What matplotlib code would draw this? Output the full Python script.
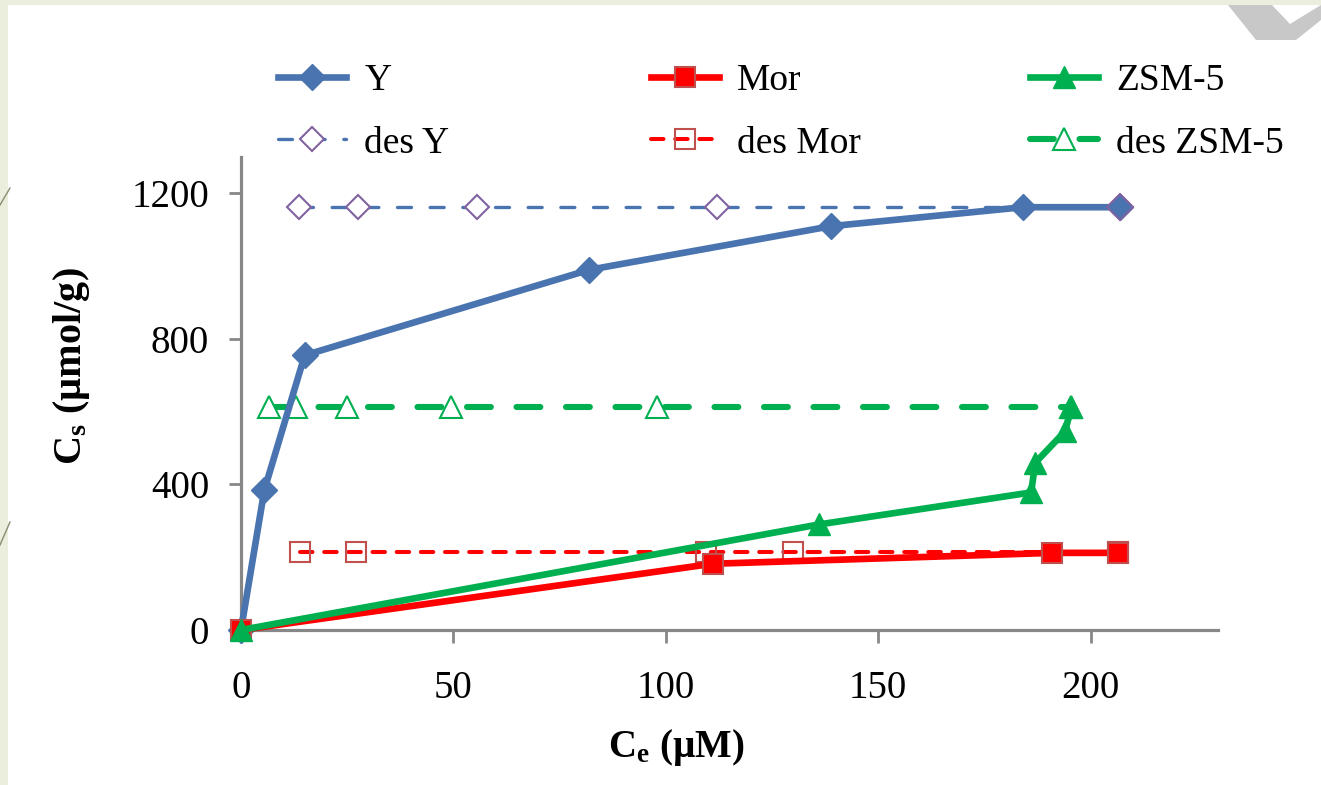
import matplotlib.pyplot as plt
from matplotlib.lines import Line2D
from matplotlib.patches import Polygon, Rectangle

plt.rcParams['font.family'] = ['Liberation Serif', 'DejaVu Serif']
plt.rcParams['mathtext.default'] = 'regular'

# Adsorption data (Ce in uM, Cs in umol/g)
y_ce = [0, 5.5, 15, 82, 139, 184, 207]
y_cs = [0, 385, 755, 990, 1110, 1162, 1162]
mor_ce = [0, 111, 191, 206.5]
mor_cs = [0, 182, 212, 212]
zsm_ce = [0, 136, 186, 187, 194, 195.5]
zsm_cs = [0, 290, 378, 460, 546, 612]

# Desorption data
desy_ce = [13.6, 27.5, 55.5, 112, 207]
desy_cs = [1162, 1162, 1162, 1162, 1162]
desmor_ce = [14, 27, 109.5, 130, 206.5]
desmor_cs = [215, 215, 215, 215, 215]
deszsm_ce = [6.6, 13, 25, 49.4, 98, 195.5]
deszsm_cs = [612, 612, 612, 612, 612, 612]

x_ticks = [0, 50, 100, 150, 200]
y_ticks = [0, 400, 800, 1200]

blue = '#4a74b0'
purple = '#7f62a0'
red = '#ff0000'
darkred = '#c0504d'
green = '#00b050'
grey = '#878787'

fig = plt.figure(figsize=(13.21, 7.85), dpi=100)
fig.patch.set_facecolor('#ebeedd')
# white slide area + decorations
fig.patches.append(Rectangle((8 / 1321, 0), 1, 1 - 5 / 785, transform=fig.transFigure,
                             facecolor='white', edgecolor='none', zorder=-10))
chev = [(1228, 5), (1272, 5), (1290, 24), (1321, 5), (1321, 20), (1296, 40), (1256, 40)]
fig.patches.append(Polygon([(x / 1321, 1 - y / 785) for x, y in chev], closed=True,
                           transform=fig.transFigure, facecolor='#c8c8c8',
                           edgecolor='none', zorder=-9))
for (x0, y0), (x1, y1) in [((0, 205), (10, 188)), ((0, 545), (10, 522))]:
    fig.lines.append(Line2D([x0 / 1321, x1 / 1321], [1 - y0 / 785, 1 - y1 / 785],
                            transform=fig.transFigure, color='#8a8a70', lw=1))

ax = fig.add_axes([241 / 1321, 1 - 630 / 785, 977 / 1321, 473 / 785])
ax.set_facecolor('none')

ax.plot(desy_ce, desy_cs, color=blue, lw=2.4, dashes=(4.2, 5.6), dash_capstyle='round',
        marker='D', ms=12, mfc='white', mec=purple, mew=1.5, label='des Y', zorder=3)
ax.plot(desmor_ce, desmor_cs, color=red, lw=2.9, dashes=(3.1, 2.9), dash_capstyle='round',
        marker='s', ms=15, mfc='none', mec=darkred, mew=1.5, label='des Mor', zorder=3)
ax.plot(deszsm_ce, deszsm_cs, color=green, lw=4.4, dashes=(3.9, 4.2), dash_capstyle='round',
        marker='^', ms=16, mfc='white', mec=green, mew=1.5, label='des ZSM-5', zorder=3)

ax.plot(y_ce, y_cs, color=blue, lw=4.8, marker='D', ms=13, mfc=blue, mec=blue,
        label='Y', zorder=4, clip_on=False)
ax.plot(mor_ce, mor_cs, color=red, lw=4.8, marker='s', ms=15, mfc=red, mec=darkred,
        mew=1.5, label='Mor', zorder=4, clip_on=False)
ax.plot(zsm_ce, zsm_cs, color=green, lw=4.8, marker='^', ms=16, mfc=green, mec=green,
        label='ZSM-5', zorder=4, clip_on=False)
# des Y end marker sits on top of the Y line
ax.plot(desy_ce[-1:], desy_cs[-1:], ls='none', marker='D', ms=13, mfc=blue, mec=purple,
        mew=1.5, zorder=5)

ax.set_xlim(0, 230)
ax.set_ylim(0, 1300)
ax.set_xticks(x_ticks)
ax.set_yticks(y_ticks)
for s in ['top', 'right']:
    ax.spines[s].set_visible(False)
for s in ['left', 'bottom']:
    ax.spines[s].set_color(grey)
    ax.spines[s].set_linewidth(2.3)
    ax.spines[s].set_zorder(2)
ax.tick_params(axis='both', colors=grey, width=2, length=9, labelsize=28,
               labelcolor='black')
ax.tick_params(axis='y', pad=14)
ax.tick_params(axis='x', pad=20)

ax.set_xlabel(r'C$_\mathregular{e}$ (µM)', fontsize=28, fontweight='bold')
ax.xaxis.set_label_coords(0.445, -0.205)
ax.set_ylabel(r'C$_\mathregular{s}$ (µmol/g)', fontsize=29, fontweight='bold')
ax.yaxis.set_label_coords(-0.152, 0.558)

handles = {h.get_label(): h for h in ax.get_lines()}
cols = [(['Y', 'des Y'], 278), (['Mor', 'des Mor'], 651), (['ZSM-5', 'des ZSM-5'], 1030)]
for names, xpix in cols:
    fig.legend([handles[n] for n in names], names, loc='center left',
               bbox_to_anchor=(xpix / 1321, 1 - 112 / 785), frameon=False,
               fontsize=27, handlelength=1.8, handletextpad=0.5,
               labelspacing=0.75, borderpad=0, borderaxespad=0)

fig.savefig('out.png', dpi=100, facecolor=fig.get_facecolor())
